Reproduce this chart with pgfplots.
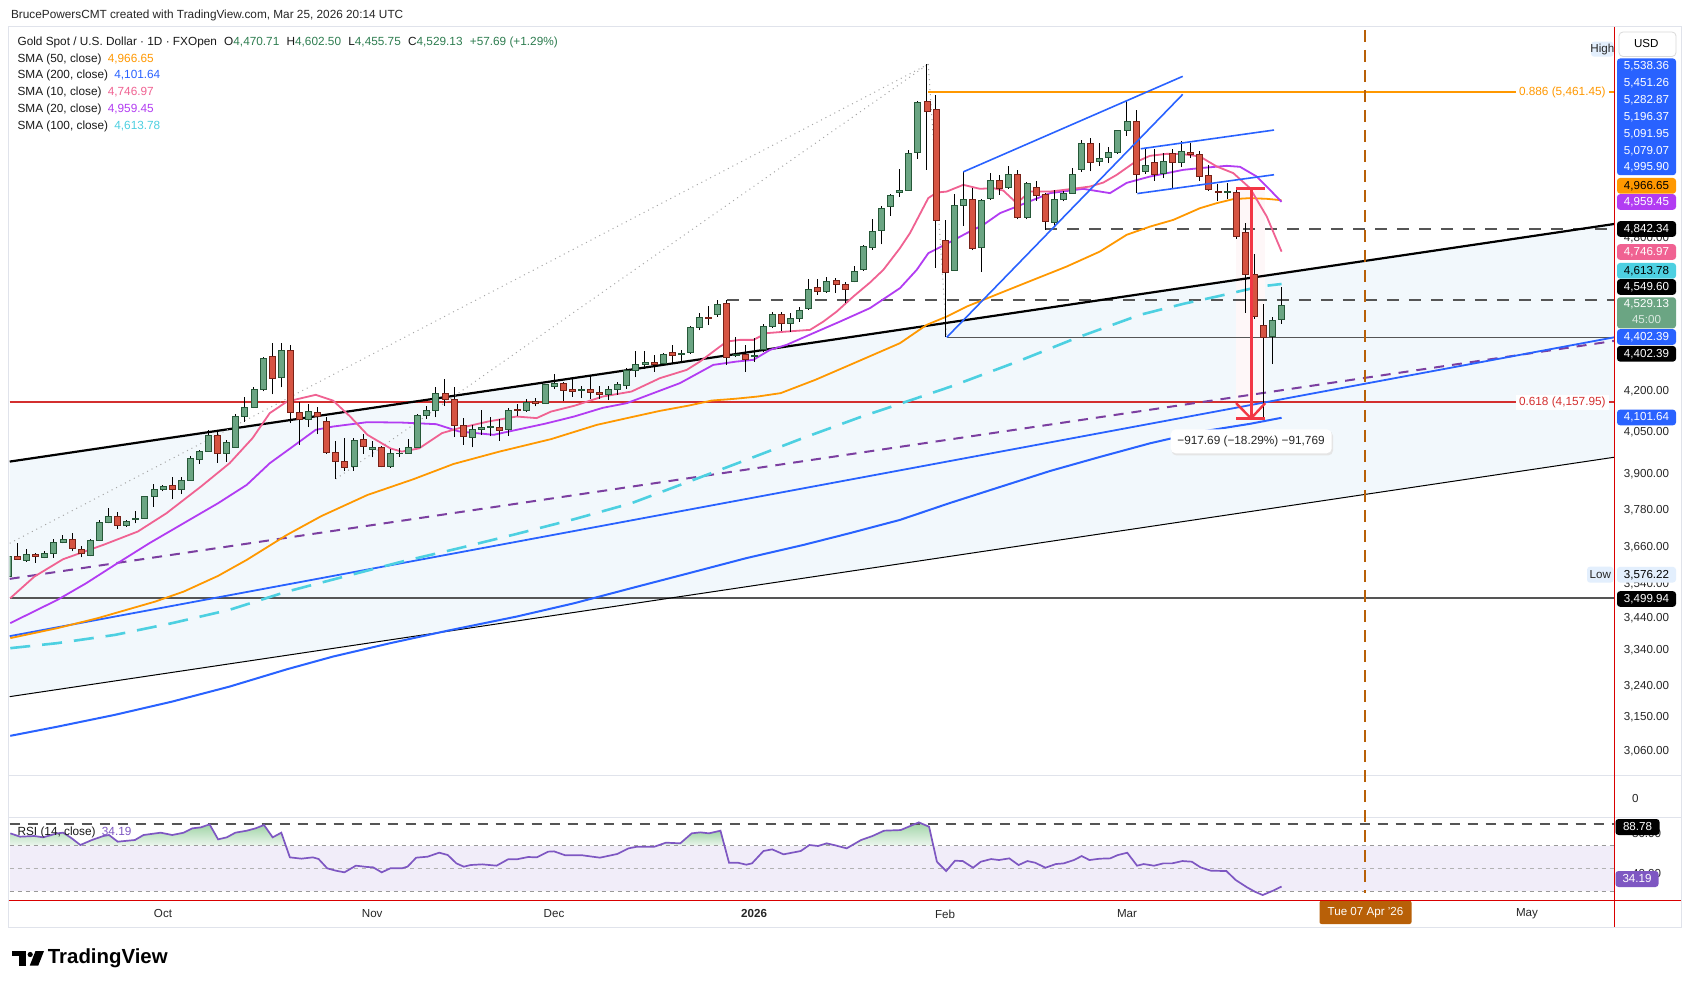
\documentclass[border=0pt]{standalone}
\usepackage{pgfplots}
\pgfplotsset{compat=1.18}
\usepackage{pgfplotstable}
\usepackage{fontspec}
\setmainfont{Liberation Sans}

\definecolor{upfill}{RGB}{107,165,131}
\definecolor{upline}{RGB}{38,88,56}
\definecolor{dnfill}{RGB}{214,84,66}
\definecolor{dnline}{RGB}{120,34,24}
\definecolor{tvblue}{RGB}{41,98,255}
\definecolor{tvorange}{RGB}{255,152,0}
\definecolor{tvpink}{RGB}{240,98,146}
\definecolor{tvviolet}{RGB}{178,60,242}
\definecolor{tvcyan}{RGB}{77,208,225}
\definecolor{tvred}{RGB}{211,47,47}
\definecolor{mred}{RGB}{242,54,69}
\definecolor{tvpurple}{RGB}{123,63,160}
\definecolor{chan}{RGB}{242,248,252}
\definecolor{tvbrown}{RGB}{184,96,8}
\definecolor{rsiline}{RGB}{126,87,194}
\definecolor{rsiband}{RGB}{241,237,249}
\definecolor{rsigtop}{RGB}{160,212,166}
\definecolor{rsigbot}{RGB}{236,246,238}
\definecolor{legreen}{RGB}{46,125,80}
\definecolor{gridc}{RGB}{224,227,235}
\definecolor{lowbg}{RGB}{227,239,253}
\definecolor{hline}{RGB}{85,85,85}

\newcommand\lfont{\fontsize{5.9}{7}\selectfont}
\newcommand\afont{\fontsize{5.8}{7}\selectfont}
\newcommand\pbox[4]{\fill[#2, rounded corners=1.5pt] (1617,#1-7.8) rectangle (1676,#1+7.8);
  \node[text=#3, font=\afont] at (1646.5,#1) {#4};}

\pgfplotsset{
  upc/.style={fill=upfill, draw=upline, line width=0.4pt},
  dnc/.style={fill=dnfill, draw=dnline, line width=0.4pt},
  wick/.style={black, line width=0.5pt},
  rsig/.style={draw=none, top color=rsigtop, bottom color=rsigbot},
}

\pgfplotstableread{
i o h l c
-17 3567 3636 3560 3630
-16 3630 3673 3620 3622
-15 3617 3654 3614 3638
-14 3638 3643 3611 3630
-13 3628 3648 3625 3641
-12 3641 3686 3627 3677
-11 3677 3700 3673 3686
-10 3686 3706 3647 3657
-9 3655 3663 3628 3641
-8 3635 3687 3631 3684
-7 3684 3750 3680 3743
-6 3741 3788 3738 3761
-5 3761 3777 3719 3732
-4 3732 3750 3728 3745
-3 3751 3780 3738 3755
-2 3755 3831 3753 3827
-1 3827 3870 3794 3853
0 3853 3868 3845 3861
1 3864 3895 3818 3852
2 3853 3895 3836 3882
3 3883 3967 3881 3957
4 3955 3988 3939 3982
5 3984 4058 3983 4040
6 4040 4052 3943 3974
7 3974 4023 3947 4013
8 3997 4116 3995 4106
9 4106 4177 4088 4140
10 4140 4214 4137 4206
11 4206 4326 4198 4322
12 4328 4380 4187 4247
13 4251 4382 4213 4351
14 4351 4373 4082 4121
15 4120 4160 4005 4097
16 4094 4152 4068 4125
17 4121 4140 4043 4106
18 4089 4106 3974 3978
19 3978 4017 3887 3948
20 3948 4029 3916 3927
21 3929 4029 3915 4022
22 4023 4044 3974 4001
23 3988 4019 3962 3997
24 3997 4000 3927 3929
25 3931 3990 3925 3976
26 3976 3993 3965 3977
27 3976 4026 3974 3996
28 3997 4115 3995 4111
29 4111 4145 4098 4127
30 4127 4214 4103 4189
31 4189 4244 4145 4169
32 4169 4216 4032 4075
33 4075 4100 4005 4035
34 4032 4075 3997 4059
35 4059 4128 4040 4068
36 4068 4105 4035 4070
37 4068 4097 4020 4055
38 4059 4136 4037 4128
39 4131 4153 4108 4127
40 4127 4170 4124 4159
41 4160 4173 4143 4154
42 4153 4226 4152 4222
43 4217 4262 4206 4229
44 4229 4234 4164 4201
45 4206 4243 4179 4197
46 4201 4218 4173 4204
47 4206 4256 4170 4193
48 4195 4218 4170 4187
49 4187 4218 4166 4206
50 4206 4234 4185 4225
51 4220 4285 4206 4276
52 4276 4351 4250 4299
53 4299 4350 4281 4307
54 4307 4335 4272 4300
55 4302 4344 4297 4338
56 4344 4373 4303 4334
57 4338 4354 4306 4339
58 4344 4447 4340 4442
59 4442 4497 4429 4481
60 4482 4526 4450 4478
61 4490 4550 4483 4530
62 4534 4550 4297 4324
63 4334 4403 4327 4338
64 4336 4373 4272 4316
65 4328 4400 4308 4332
66 4354 4456 4347 4445
67 4445 4503 4438 4494
68 4494 4500 4426 4456
69 4456 4496 4425 4477
70 4477 4521 4464 4506
71 4514 4633 4510 4593
72 4600 4633 4570 4583
73 4583 4644 4579 4625
74 4628 4638 4577 4613
75 4614 4620 4537 4593
76 4625 4688 4620 4666
77 4672 4775 4667 4768
78 4765 4884 4754 4833
79 4836 4940 4777 4932
80 4940 4992 4900 4987
81 5000 5107 4982 5008
82 5010 5191 5008 5176
83 5178 5421 5150 5413
84 5416 5598 5101 5369
85 5380 5448 4681 4879
86 4795 4882 4402.39 4662
87 4668 4994 4668 4945
88 4945 5093 4855 4969
89 4968 5020 4753 4760
90 4764 4971 4662 4964
91 4975 5086 4968 5056
92 5056 5079 4990 5019
93 5025 5118 5016 5082
94 5082 5101 4883 4894
95 4894 5049 4884 5041
96 5023 5053 4965 4989
97 4992 4996 4839 4877
98 4872 5012 4856 4971
99 4971 5008 4961 4997
100 4997 5109 4999 5082
101 5104 5237 5093 5222
102 5222 5245 5094 5134
103 5138 5221 5119 5153
104 5157 5204 5131 5178
105 5178 5284 5173 5279
106 5279 5421 5256 5321
107 5321 5377 4999 5082
108 5096 5200 5083 5123
109 5134 5195 5053 5082
110 5086 5179 5064 5138
111 5176 5195 5015 5134
112 5134 5234 5113 5186
113 5178 5222 5154 5171
114 5171 5188 5053 5071
115 5075 5124 5009 5015
116 5004 5039 4965 5001
117 5002 5042 4971 5004
118 5002 5017.29 4802 4809
119 4826 4868 4499 4654
120 4654 4736 4474 4486
121 4447 4534 4099.60 4401
122 4404 4481 4300 4467
123 4470.71 4602.50 4455.75 4529.13
}\candles

\begin{document}
\begin{tikzpicture}
\begin{scope}[x=0.5pt,y=-0.5pt]
\fill[white] (0,0) rectangle (1691,988);
\draw[gridc, line width=0.5pt] (8.5,27) rectangle (1681,927);
\draw[gridc, line width=0.5pt] (8.5,775) -- (1681,775);
\draw[gridc, line width=0.5pt] (8.5,817) -- (1681,817);
\end{scope}

% ================= PRICE PANE =================
\begin{axis}[at={(4.85pt,-387.5pt)}, anchor=south west, width=802.15pt, height=372.5pt,
  scale only axis, xmin=-16.857, xmax=159.556, ymode=log, ymin=2996.2, ymax=5769.4,
  axis lines=none, ticks=none, clip=true]
\addplot[fill=chan, draw=none] coordinates {(-16.857,3947.2) (159.556,4863.6) (159.556,3962.0) (-16.857,3209.8)} -- cycle;
\addplot[fill=mred!4, draw=none] coordinates {(118,4099.6) (121.2,4099.6) (121.2,5017.29) (118,5017.29)} -- cycle;
\addplot[hline, line width=1pt] coordinates {(-16.857,3499.94) (159.556,3499.94)};
\addplot[tvred, line width=1pt] coordinates {(-16.857,4157.95) (159.556,4157.95)};
\addplot[hline, line width=0.8pt] coordinates {(86.18,4402.39) (159.556,4402.39)};
\addplot[hline, line width=1pt, dash pattern=on 6pt off 5pt] coordinates {(62,4549.60) (159.556,4549.60)};
\addplot[hline, line width=1pt, dash pattern=on 6pt off 5pt] coordinates {(97,4842.34) (159.556,4842.34)};
\addplot[tvorange, line width=1pt] coordinates {(84.15,5461.45) (159.556,5461.45)};
\addplot[tvpurple, line width=1pt, dash pattern=on 5pt off 4pt] coordinates {(-16.857,3560) (159.556,4388.6)};
\addplot[tvblue, line width=0.9pt] coordinates {(-16.857,3385.0) (159.556,4402.39)};
\addplot[black, line width=0.5pt] coordinates {(-16.857,3209.8) (159.556,3962.0)};
\addplot[black, line width=1.1pt] coordinates {(-16.857,3947.2) (159.556,4863.6)};
\addplot[gray!70, line width=0.5pt, dotted] coordinates {(-16.857,3673.5) (84.15,5598)};
\addplot[gray!70, line width=0.5pt, dotted] coordinates {(19,3887) (84.15,5598)};
\addplot[gray!70, line width=0.5pt, dotted] coordinates {(84.15,5598) (86.18,4402.39)};
% SMA 200
\addplot[tvblue, line width=1pt] coordinates {(-16.79,3100.8) (-11.61,3126.1) (-5.30,3158.6) (1.01,3195.7) (7.32,3238.2) (13.64,3288.1) (18.69,3324.8) (25.01,3364.2) (31.32,3401.7) (38.88,3443.9) (45.20,3484.7) (51.52,3531.0) (57.83,3577.8) (64.14,3625.3) (70.45,3668.1) (75.50,3706.0) (81.04,3749.5) (86.54,3806.0) (92.04,3860.0) (97.54,3914.6) (103.03,3963.2) (108.53,4010.5) (114.03,4051.3) (119.53,4079.9) (123,4101.64)};
% SMA 100
\addplot[tvcyan, line width=1.3pt, dash pattern=on 10pt off 6pt] coordinates {(-16.79,3349.4) (-11.61,3364.2) (-5.30,3388.9) (1.01,3423.9) (7.32,3464.2) (13.64,3520.4) (19.95,3567.2) (26.26,3614.5) (32.57,3657.4) (38.88,3703.7) (45.20,3751.8) (51.52,3805.0) (57.83,3878.0) (64.14,3952.7) (70.45,4030.0) (76.76,4105.1) (81.04,4152.3) (86.54,4214.8) (93.88,4308.4) (100.47,4400.4) (107.43,4490.3) (112.20,4534.0) (115.87,4563.2) (120.63,4603.5) (123,4613.78)};
% SMA 50
\addplot[tvorange, line width=0.9pt] coordinates {(-16.79,3379.1) (-11.61,3408.9) (-7.19,3439.0) (-0.88,3489.5) (2.28,3520.4) (6.06,3569.4) (9.21,3619.9) (13.64,3700.5) (17.43,3762.8) (22.48,3833.0) (27.52,3886.2) (31.94,3938.9) (36.99,3981.7) (42.68,4025.4) (47.72,4076.3) (51.52,4104.0) (54.67,4126.8) (57.83,4146.1) (60.35,4164.3) (62.88,4170.6) (65.39,4179.1) (67.92,4191.6) (71.72,4240.8) (75.54,4297.1) (81.04,4379.9) (83.98,4451.0) (86.18,4483.6) (88.38,4523.2) (92.04,4576.8) (95.70,4630.7) (99.37,4685.2) (103.03,4747.4) (105.97,4817.7) (108.53,4852.6) (111.09,4881.5) (114.03,4931.9) (115.87,4953.7) (117.69,4971.3) (119.53,4975.7) (121.37,4972.6) (123,4966.65)};
% SMA 20
\addplot[tvviolet, line width=0.9pt] coordinates {(-16.79,3424.0) (-11.61,3494.8) (-8.46,3546.5) (-5.30,3604.0) (-1.51,3673.5) (2.90,3749.5) (6.06,3805.0) (9.21,3866.8) (11.74,3941.3) (14.27,3999.3) (16.79,4058.4) (18.69,4070.1) (22.48,4085.9) (26.26,4084.4) (30.05,4078.6) (32.57,4052.4) (36.36,4040.6) (38.88,4058.4) (42.05,4080.6) (45.20,4106.1) (48.36,4137.7) (50.99,4154.7) (53.92,4191.5) (56.85,4228.6) (60.51,4297.1) (63.09,4309.6) (64.91,4316.0) (66.75,4354.2) (68.58,4373.4) (71.51,4418.6) (74.44,4463.8) (77.74,4516.8) (81.04,4597.0) (82.88,4671.6) (84.16,4740.7) (86.18,4779.7) (88.38,4824.7) (90.20,4860.2) (92.04,4910.4) (93.88,4939.0) (97.54,4997.6) (101.2,5016.5) (104.13,4997.6) (105.97,5043.0) (108.53,5071.1) (112.20,5101.1) (114.03,5108.7) (116.97,5119.1) (118.43,5114.6) (120.27,5071.1) (121.37,5026.7) (123,4959.45)};
% SMA 10
\addplot[tvpink, line width=0.9pt] coordinates {(-16.79,3500.1) (-14.14,3567.2) (-10.99,3622.1) (-6.56,3668.1) (-2.77,3711.2) (0.38,3771.7) (4.17,3861.0) (7.32,3941.3) (9.85,4028.9) (11.74,4118.5) (13.64,4160.7) (16.79,4185.3) (18.69,4164.3) (20.58,4106.1) (22.48,4040.6) (25.01,3993.6) (26.26,3981.7) (28.16,3993.6) (30.68,4046.7) (32.57,4064.5) (35.74,4088.1) (38.88,4106.1) (41.09,4100.4) (42.68,4124.2) (45.20,4144.9) (48.36,4179.1) (51.52,4197.4) (54.65,4247.2) (57.59,4278.2) (59.05,4309.6) (60.51,4347.7) (61.99,4386.1) (63.45,4392.6) (64.91,4392.6) (66.38,4418.6) (68.58,4424.8) (71.15,4431.4) (72.61,4463.8) (74.08,4503.4) (75.91,4563.2) (77.74,4619.7) (79.21,4671.6) (81.04,4761.6) (82.14,4824.7) (84.15,4975.7) (85.08,5000.2) (86.18,5004.6) (88.0,5034.2) (89.84,5016.5) (91.30,5019.6) (92.40,5009.0) (93.88,4953.9) (95.34,5004.6) (97.54,5004.6) (99.74,5015.2) (101.94,5026.7) (103.40,5044.4) (104.87,5078.7) (106.70,5131.3) (108.53,5164.3) (110.37,5173.3) (112.20,5172.0) (114.03,5161.1) (115.87,5116.0) (117.69,5086.3) (119.53,5019.6) (121.37,4895.8) (123,4746.97)};
% candles
\pgfplotsinvokeforeach{0,...,140}{%
  \pgfplotstablegetelem{#1}{i}\of\candles\let\ci\pgfplotsretval
  \pgfplotstablegetelem{#1}{o}\of\candles\let\co\pgfplotsretval
  \pgfplotstablegetelem{#1}{h}\of\candles\let\ch\pgfplotsretval
  \pgfplotstablegetelem{#1}{l}\of\candles\let\cl\pgfplotsretval
  \pgfplotstablegetelem{#1}{c}\of\candles\let\cc\pgfplotsretval
  \pgfmathsetmacro\xl{\ci-0.33}%
  \pgfmathsetmacro\xr{\ci+0.33}%
  \pgfmathtruncatemacro\isup{\cc>=\co ? 1 : 0}%
  \ifnum\isup=1 \def\cst{upc}\else\def\cst{dnc}\fi
  \edef\doit{%
    \noexpand\addplot[wick] coordinates {(\ci,\cl) (\ci,\ch)};
    \noexpand\addplot[\cst] coordinates {(\xl,\co) (\xr,\co) (\xr,\cc) (\xl,\cc)} -- cycle;}%
  \doit
}
\addplot[tvblue, line width=0.8pt] coordinates {(88.0,5091.95) (112.13,5538.36)};
\addplot[tvblue, line width=0.8pt] coordinates {(86.18,4402.39) (112.13,5451.26)};
\addplot[tvblue, line width=0.8pt] coordinates {(107.51,5196.37) (122.17,5282.87)};
\addplot[tvblue, line width=0.8pt] coordinates {(107.14,4995.90) (122.17,5079.07)};
\addplot[mred, line width=1.5pt] coordinates {(119.64,5017.29) (119.64,4099.6)};
\addplot[mred, line width=1.5pt] coordinates {(118.0,5017.29) (121.2,5017.29)};
\addplot[mred, line width=1.5pt] coordinates {(118.0,4099.6) (121.2,4099.6)};
\addplot[mred, line width=1.2pt] coordinates {(118.0,4154.8) (119.64,4099.6) (121.2,4154.8)};
\end{axis}

% ================= RSI PANE =================
\begin{axis}[at={(4.85pt,-450pt)}, anchor=south west, width=802.15pt, height=41.5pt,
  scale only axis, xmin=-16.857, xmax=159.556, ymin=22.37, ymax=95.18,
  axis lines=none, ticks=none, clip=true]
\addplot[fill=rsiband, draw=none] coordinates {(-16.857,30) (159.556,30) (159.556,70) (-16.857,70)} -- cycle;
% overbought areas (RSI above 70)
\addplot[rsig] coordinates {(-16.79,70) (-16.79,80.85) (-15.71,77.92) (-14.14,78.51) (-13.19,77.34) (-11.61,80.85) (-10.98,81.43) (-10.03,76.46) (-9.09,70.61) (-7.82,75.0) (-6.56,78.51) (-5.93,79.39) (-4.98,73.54) (-3.09,75.0) (-2.14,79.39) (-0.25,81.43) (1.01,79.39) (2.28,81.43) (3.22,85.23) (4.17,86.11) (5.12,88.74) (6.06,75.58) (7.01,77.34) (7.96,81.43) (9.22,83.19) (10.17,85.23) (11.11,88.16) (12.06,77.34) (13.01,81.43) (13.51,70)} -- cycle;
\addplot[rsig] coordinates {(54.35,70) (55.30,72.66) (56.88,72.08) (58.14,80.85) (59.09,81.73) (60.04,80.85) (61.30,83.19) (61.74,70)} -- cycle;
\addplot[rsig] coordinates {(70.97,70) (71.08,70.61) (71.75,70)} -- cycle;
\addplot[rsig] coordinates {(72.14,70) (72.98,72.08) (73.92,70.32) (74.07,70)} -- cycle;
\addplot[rsig] coordinates {(75.68,70) (76.76,75.0) (78.02,78.51) (79.29,83.19) (81.12,83.74) (83.11,90.47) (84.24,86.67) (84.71,70)} -- cycle;
\addplot[gray!80, line width=0.5pt, dash pattern=on 2pt off 2pt] coordinates {(-16.857,70) (159.556,70)};
\addplot[gray!60, line width=0.5pt, dash pattern=on 2pt off 2pt] coordinates {(-16.857,50) (159.556,50)};
\addplot[gray!80, line width=0.5pt, dash pattern=on 2pt off 2pt] coordinates {(-16.857,30) (159.556,30)};
\addplot[hline, line width=1pt, dash pattern=on 5pt off 4pt] coordinates {(-16.857,88.78) (159.556,88.78)};
\addplot[rsiline, line width=0.85pt] coordinates {(-16.79,80.85) (-15.71,77.92) (-14.14,78.51) (-13.19,77.34) (-11.61,80.85) (-10.98,81.43) (-10.03,76.46) (-9.09,70.61) (-7.82,75.0) (-6.56,78.51) (-5.93,79.39) (-4.98,73.54) (-3.09,75.0) (-2.14,79.39) (-0.25,81.43) (1.01,79.39) (2.28,81.43) (3.22,85.23) (4.17,86.11) (5.12,88.74) (6.06,75.58) (7.01,77.34) (7.96,81.43) (9.22,83.19) (10.17,85.23) (11.11,88.16) (12.06,77.34) (13.01,81.43) (13.95,59.79) (15.22,58.63) (16.48,59.79) (17.11,58.33) (18.06,50.15) (19.0,48.10) (19.95,46.64) (21.21,52.49) (22.48,51.32) (23.11,51.02) (24.05,46.64) (25.0,50.15) (26.26,50.15) (26.89,51.61) (27.84,59.50) (29.10,60.38) (30.37,63.89) (31.31,61.84) (32.26,54.53) (33.08,51.61) (33.84,53.07) (35.10,53.65) (36.68,52.49) (37.94,58.04) (38.89,58.04) (40.15,60.09) (41.10,59.79) (42.36,64.77) (42.99,65.06) (44.25,61.55) (46.15,61.55) (48.04,59.50) (49.94,62.72) (51.20,67.69) (52.14,69.15) (54.04,69.15) (55.30,72.66) (56.88,72.08) (58.14,80.85) (59.09,81.73) (60.04,80.85) (61.30,83.19) (62.24,55.12) (63.19,55.12) (64.14,53.36) (64.77,54.53) (66.03,65.35) (66.98,66.81) (68.24,62.43) (70.13,65.35) (71.08,70.61) (72.03,69.74) (72.98,72.08) (73.92,70.32) (75.18,67.69) (76.76,75.0) (78.02,78.51) (79.29,83.19) (81.12,83.74) (83.11,90.47) (84.24,86.67) (85.10,55.97) (86.12,47.78) (87.09,56.84) (87.94,56.55) (89.08,50.70) (89.93,55.97) (91.07,58.30) (91.92,57.43) (93.06,58.89) (94.08,53.04) (95.05,56.55) (95.90,55.09) (97.04,50.70) (98.18,53.92) (99.04,54.50) (100.17,57.43) (101.02,60.94) (101.87,57.43) (103.01,58.60) (104.15,58.89) (105.0,61.82) (106.03,63.86) (107.11,52.46) (107.84,53.92) (108.98,52.46) (110.0,54.50) (110.96,54.50) (112.1,56.55) (113.13,55.97) (114.09,51.0) (115.23,48.07) (116.93,47.78) (117.96,39.88) (119.21,33.45) (120.07,29.65) (120.92,26.72) (122.06,30.53) (123,34.19)};
\end{axis}

\begin{scope}[x=0.5pt,y=-0.5pt]
\draw[tvbrown, line width=1pt, dash pattern=on 6pt off 4pt] (1364.5,30) -- (1364.5,893);

\node[fill=white, text=tvorange, font=\lfont, anchor=east, inner xsep=1.5pt, inner ysep=1pt] at (1609,92) {0.886 (5,461.45)};
\node[fill=white, text=tvred, font=\lfont, anchor=east, inner xsep=1.5pt, inner ysep=1pt] at (1609,402.5) {0.618 (4,157.95)};

\fill[black!10, rounded corners=2.5pt] (1171.5,431) rectangle (1333,455.5);
\fill[white, rounded corners=2.5pt] (1170.7,429.3) rectangle (1331.7,453.3);
\node[font=\lfont, text=black!85] at (1251,441.3) {−917.69 (−18.29\%) −91,769};

\node[anchor=west, font=\lfont, text=black!85, inner sep=0pt] at (10.7,15) {BrucePowersCMT created with TradingView.com, Mar 25, 2026 20:14 UTC};
\node[anchor=west, font=\lfont, text=black!90, inner sep=0pt] at (17.2,42.7) {Gold Spot / U.S. Dollar · 1D · FXOpen\hspace{2pt} O\textcolor{legreen}{4,470.71}\hspace{2pt} H\textcolor{legreen}{4,602.50}\hspace{2pt} L\textcolor{legreen}{4,455.75}\hspace{2pt} C\textcolor{legreen}{4,529.13}\hspace{2pt} \textcolor{legreen}{+57.69 (+1.29\%)}};
\node[anchor=west, font=\lfont, text=black!90, inner sep=0pt] at (17.2,59.3) {SMA (50, close)\hspace{1.5pt} \textcolor{tvorange}{4,966.65}};
\node[anchor=west, font=\lfont, text=black!90, inner sep=0pt] at (17.2,75.7) {SMA (200, close)\hspace{1.5pt} \textcolor{tvblue}{4,101.64}};
\node[anchor=west, font=\lfont, text=black!90, inner sep=0pt] at (17.2,92.3) {SMA (10, close)\hspace{1.5pt} \textcolor{tvpink}{4,746.97}};
\node[anchor=west, font=\lfont, text=black!90, inner sep=0pt] at (17.2,109.3) {SMA (20, close)\hspace{1.5pt} \textcolor{tvviolet}{4,959.45}};
\node[anchor=west, font=\lfont, text=black!90, inner sep=0pt] at (17.2,126.7) {SMA (100, close)\hspace{1.5pt} \textcolor{tvcyan}{4,613.78}};
\node[anchor=west, font=\lfont, text=black!90, inner sep=0pt] at (17.2,832.7) {RSI (14, close)\hspace{1.5pt} \textcolor{rsiline}{34.19}};

\foreach \yy/\tt in {238/{4,800.00}, 391/{4,200.00}, 432/{4,050.00}, 474.3/{3,900.00}, 510/{3,780.00}, 546.7/{3,660.00}, 584/{3,540.00}, 617.7/{3,440.00}, 650/{3,340.00}, 685.7/{3,240.00}, 716.7/{3,150.00}, 751/{3,060.00}}
  \node[font=\afont, text=black!85] at (1646.5,\yy) {\tt};
\node[font=\afont, text=black!85, anchor=west] at (1625,798.3) {0};
\node[font=\afont, text=black!85, anchor=west] at (1625,834) {80.00};
\node[font=\afont, text=black!85, anchor=west] at (1625,874) {40.00};

\draw[gray!30, fill=white, rounded corners=2pt] (1619,32) rectangle (1676,56.5);
\node[font=\afont, anchor=west] at (1627,44) {USD};
\fill[lowbg, rounded corners=1.5pt] (1591,41.7) rectangle (1613.5,56.7);
\node[font=\afont, text=black!85] at (1602.3,49.2) {High};
\fill[lowbg, rounded corners=1.5pt] (1587,566.7) rectangle (1613.5,582.7);
\node[font=\afont, text=black!85] at (1600.3,574.7) {Low};

\fill[tvblue, rounded corners=1.5pt] (1617,58.5) rectangle (1676,175.2);
\foreach \yy/\tt in {66/{5,538.36}, 83/{5,451.26}, 100/{5,282.87}, 117/{5,196.37}, 134/{5,091.95}, 150.7/{5,079.07}, 167/{4,995.90}}
  \node[font=\afont, text=white] at (1646.5,\yy) {\tt};
\pbox{185.8}{tvorange}{black}{4,966.65}
\pbox{202}{tvviolet}{white}{4,959.45}
\pbox{229}{black}{white}{4,842.34}
\pbox{252}{tvpink}{white}{4,746.97}
\pbox{270.8}{tvcyan}{black}{4,613.78}
\pbox{287}{black}{white}{4,549.60}
\fill[upfill, rounded corners=1.5pt] (1617,297.3) rectangle (1676,328.3);
\node[font=\afont, text=white] at (1646.5,304.5) {4,529.13};
\node[font=\afont, text=white!75!upfill] at (1646.5,319.5) {45:00};
\pbox{337}{tvblue}{white}{4,402.39}
\pbox{353.8}{black}{white}{4,402.39}
\pbox{417.5}{tvblue}{white}{4,101.64}
\pbox{574.7}{lowbg}{black}{3,576.22}
\pbox{599}{black}{white}{3,499.94}
\fill[black, rounded corners=1.5pt] (1615.5,819) rectangle (1659.5,835);
\node[font=\afont, text=white] at (1637.5,827) {88.78};
\fill[rsiline, rounded corners=1.5pt] (1615.5,871) rectangle (1658.5,887);
\node[font=\afont, text=white] at (1637,879) {34.19};

\foreach \xx/\tt in {163/Oct, 372.2/Nov, 554/Dec, 945/Feb, 1127/Mar, 1527/May}
  \node[font=\afont, text=black!85] at (\xx,914) {\tt};
\node[font=\afont\bfseries, text=black!85] at (754.1,914) {2026};
\fill[tvbrown, rounded corners=1pt] (1319.5,900.7) rectangle (1411.5,924);
\node[font=\afont, text=white] at (1365.5,912.3) {Tue 07 Apr '26};

\draw[red!85!black, line width=0.5pt] (1614.8,27) -- (1614.8,927);
\draw[red!85!black, line width=0.5pt] (8.5,900.3) -- (1681,900.3);

\fill[black] (11.5,951) rectangle (26,956);
\fill[black] (19,951) rectangle (26,965.5);
\fill[black] (30.2,954.5) circle (2.6);
\fill[black] (35.5,951) -- (44,951) -- (38.3,965.5) -- (29.8,965.5) -- cycle;
\node[anchor=west, font=\fontsize{10.2}{12}\selectfont\bfseries, inner sep=0pt] at (47.5,958.5) {TradingView};
\end{scope}
\end{tikzpicture}
\end{document}
